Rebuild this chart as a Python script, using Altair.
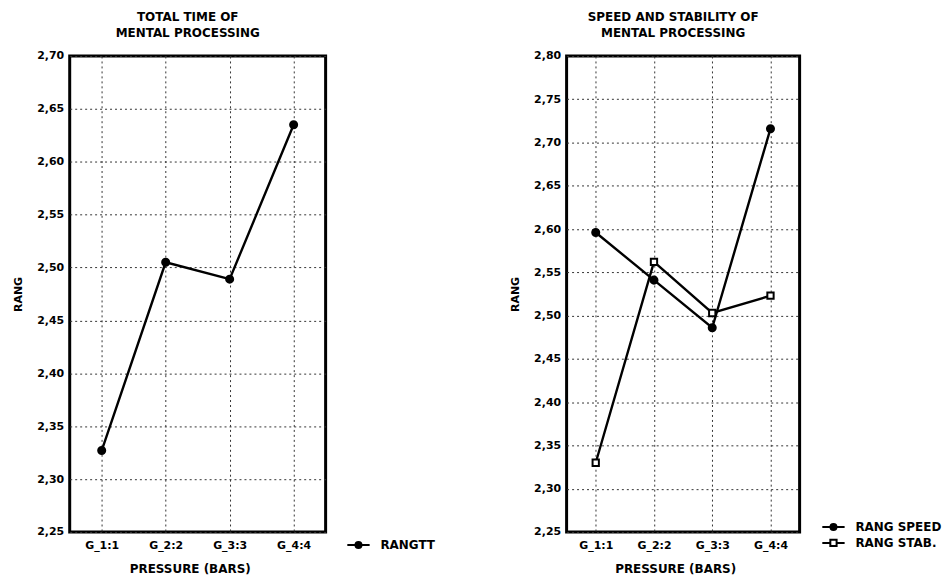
import altair as alt
import pandas as pd

# ---------------- data ----------------
categories = ["G_1:1", "G_2:2", "G_3:3", "G_4:4"]
rangtt = [2.327, 2.505, 2.489, 2.635]
rang_speed = [2.596, 2.541, 2.486, 2.716]
rang_stab = [2.330, 2.562, 2.503, 2.523]
left_ticks = [2.25, 2.30, 2.35, 2.40, 2.45, 2.50, 2.55, 2.60, 2.65, 2.70]
right_ticks = [2.25, 2.30, 2.35, 2.40, 2.45, 2.50, 2.55, 2.60, 2.65, 2.70, 2.75, 2.80]
left_series = ["RANGTT"]
right_series = ["RANG SPEED", "RANG STAB."]
left_title = ["TOTAL TIME OF", "MENTAL PROCESSING"]
right_title = ["SPEED AND STABILITY OF", "MENTAL PROCESSING"]

FONT = "DejaVu Sans"
CIRCLE_PATH = "M-1.6,0H1.6M-0.43,0A0.43,0.43,0,1,1,0.43,0A0.43,0.43,0,1,1,-0.43,0Z"
SQUARE_PATH = "M-1.6,0H-0.45M0.45,0H1.6M-0.45,-0.45H0.45V0.45H-0.45Z"

left_df = pd.DataFrame({"group": categories, "value": rangtt, "series": left_series[0]})
right_df = pd.concat([
    pd.DataFrame({"group": categories, "value": rang_speed, "series": right_series[0]}),
    pd.DataFrame({"group": categories, "value": rang_stab, "series": right_series[1]}),
], ignore_index=True)

PLOT_H = 478


def panel(df, series, shapes, fills, paths, ticks, ymax, width, title, legend_x, legend_y):
    x = alt.X(
        "group:O", sort=categories,
        scale=alt.Scale(type="point", padding=0.5),
        axis=alt.Axis(
            title="PRESSURE (BARS)", labelAngle=0, labelPadding=8,
            titleX=width / 2 - 8, titleY=37, titleBaseline="middle",
            grid=True, gridDash=[2, 3], gridColor="#333", gridWidth=1,
            ticks=False, domain=False,
        ),
    )
    y = alt.Y(
        "value:Q",
        scale=alt.Scale(domain=[2.25, ymax], nice=False, zero=False),
        axis=alt.Axis(
            values=ticks, title="RANG",
            labelExpr="replace(format(datum.value, '.2f'), '.', ',')",
            labelPadding=6, titleX=-51, titleY=PLOT_H / 2, titleAngle=-90,
            titleBaseline="middle",
            grid=True, gridDash=[2, 3], gridColor="#333", gridWidth=1,
            ticks=False, domain=False,
        ),
    )
    base = alt.Chart(df)
    layers = [base.mark_line(color="black", strokeWidth=2.4).encode(x=x, y=y, detail="series:N")]
    for s, shp, fl in zip(series, shapes, fills):
        layers.append(
            base.transform_filter(alt.datum.series == s)
            .mark_point(shape=shp, filled=True, fill=fl, stroke="black",
                        strokeWidth=2, size=50 if shp == "circle" else 40, opacity=1)
            .encode(x=x, y=y)
        )
    leg = alt.Legend(
        title=None, orient="none", legendX=legend_x, legendY=legend_y,
        symbolSize=196, labelFont=FONT, labelFontSize=12, labelFontWeight="bold",
        labelColor="black", labelOffset=14, rowPadding=0, padding=0,
        symbolStrokeWidth=2, symbolStrokeColor="black",
    )
    legend_layer = (
        base.transform_filter("false")
        .mark_point(filled=True, strokeWidth=2, opacity=1)
        .encode(
            x=x, y=y,
            shape=alt.Shape("series:N", scale=alt.Scale(domain=series, range=paths), legend=leg),
            fill=alt.Fill("series:N", scale=alt.Scale(domain=series, range=fills), legend=leg),
            stroke=alt.Stroke("series:N", scale=alt.Scale(domain=series, range=["black"] * len(series)), legend=leg),
        )
    )
    layers.append(legend_layer)
    return alt.layer(*layers).properties(
        width=width, height=PLOT_H,
        title=alt.TitleParams(
            text=title, font=FONT, fontSize=12, fontWeight="bold", color="black",
            anchor="middle", dx=-10, lineHeight=16, offset=10,
        ),
    )


left = panel(left_df, left_series, ["circle"], ["black"], [CIRCLE_PATH],
             left_ticks, 2.70, 257, left_title, 282, 483)
right = panel(right_df, right_series, ["circle", "square"], ["black", "white"],
              [CIRCLE_PATH, SQUARE_PATH], right_ticks, 2.80, 234, right_title, 260, 465)

chart = (
    alt.hconcat(left, right, spacing=242, bounds="flush")
    .resolve_scale(shape="independent", fill="independent", stroke="independent")
    .resolve_legend(shape="independent", fill="independent", stroke="independent")
    .properties(padding={"left": 11, "top": 8, "right": 0, "bottom": 0}, background="white")
    .configure_view(stroke="black", strokeWidth=3)
    .configure_axis(
        labelFont=FONT, labelFontSize=11, labelFontWeight="bold", labelColor="black",
        titleFont=FONT, titleFontSize=12, titleFontWeight="bold", titleColor="black",
    )
    .configure_axisY(titleFontSize=11)
)

chart.save("out.html", embed_options={"renderer": "svg", "actions": False})
